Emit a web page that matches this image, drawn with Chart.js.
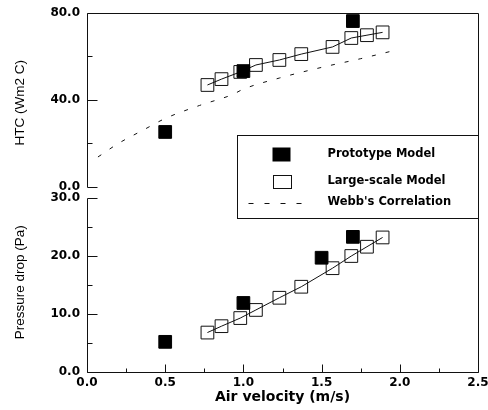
<!DOCTYPE html>
<html>
<head>
<meta charset="utf-8">
<script src="https://cdn.jsdelivr.net/npm/chart.js@4.4.0/dist/chart.umd.min.js"></script>
<style>
body { margin: 0; background: #fff; }
#chart-wrap { width: 488px; height: 410px; }
</style>
</head>
<body>
<div id="chart-wrap"><canvas id="chart-area" width="488" height="410"></canvas></div>
<script>
// air velocity (m/s) vs HTC / pressure drop
var protoVelTop = [0.5, 1.0, 1.7];
var protoHtc = [25.3, 53.3, 76.3];
var protoVelBot = [0.5, 1.0, 1.5, 1.7];
var protoDp = [5.2, 11.9, 19.7, 23.3];

var largeVel = [0.77, 0.86, 0.98, 1.08, 1.23, 1.37, 1.57, 1.69, 1.79, 1.89];
var largeHtc = [46.9, 49.6, 52.9, 56.1, 58.4, 61.1, 64.4, 68.5, 69.8, 71.1];
var largeDp = [6.8, 7.9, 9.3, 10.7, 12.8, 14.7, 17.9, 20.0, 21.6, 23.2];

var webbVel = [0.07, 0.2, 0.36, 0.5, 0.72, 0.93, 1.0, 1.23, 1.5, 1.75, 1.95];
var webbHtc = [13.8, 20.0, 26.2, 31.5, 37.5, 42.5, 45.0, 50.1, 55.0, 59.0, 62.5];

var xTicks = [0, 0.25, 0.5, 0.75, 1.0, 1.25, 1.5, 1.75, 2.0, 2.25, 2.5];
var htcTicks = [0, 20, 40, 60, 80];
var dpTicks = [0, 5, 10, 15, 20, 25, 30];
var legendLabels = ['Prototype Model', 'Large-scale Model', "Webb's Correlation"];

var ink = '#111';
var boldFont = {family: 'DejaVu Sans', weight: 'bold', size: 12};
var titleFont = {family: 'Liberation Sans', weight: 'normal', size: 13.5};

function pts(xs, ys) {
	return xs.map(function(v, i) { return {x: v, y: ys[i]}; });
}

function labelEvery(step) {
	return function(v) {
		var r = v / step;
		return Math.abs(r - Math.round(r)) < 1e-6 ? v.toFixed(1) : '';
	};
}

function yScale(list, lo, hi, step, title) {
	return {
		type: 'linear',
		position: 'left',
		stack: 'panels',
		stackWeight: 1,
		min: lo,
		max: hi,
		afterBuildTicks: function(s) {
			s.ticks = list.map(function(v) { return {value: v}; });
		},
		afterFit: function(s) {
			s.width = 87;
			s.paddingTop = 0;
			s.paddingBottom = 0;
		},
		grid: {display: false, drawTicks: false},
		border: {display: false},
		ticks: {autoSkip: false, padding: 7, color: '#000', font: boldFont, callback: labelEvery(step)},
		title: {display: true, text: title, color: '#000', font: titleFont, padding: {top: 12, bottom: 0}}
	};
}

// frames, inward ticks and the legend box
var panelFrames = {
	id: 'panelFrames',
	afterDatasetsDraw: function(chart) {
		var ctx = chart.ctx;
		var sx = chart.scales.x, st = chart.scales.yTop, sb = chart.scales.yBot;
		var px = function(v) { return Math.round(v) + 0.5; };
		var left = px(sx.getPixelForValue(0)), right = px(sx.getPixelForValue(2.5));
		var top = px(st.getPixelForValue(80)), topZero = px(st.getPixelForValue(0));
		var botTop = px(sb.getPixelForValue(30)), bottom = px(sb.getPixelForValue(0));

		ctx.save();
		ctx.strokeStyle = ink;
		ctx.lineWidth = 1;
		ctx.beginPath();
		ctx.moveTo(left, topZero);
		ctx.lineTo(left, top);
		ctx.lineTo(right, top);
		ctx.lineTo(right, bottom);
		ctx.lineTo(left, bottom);
		ctx.lineTo(left, botTop);

		htcTicks.forEach(function(v) {
			var y = px(st.getPixelForValue(v));
			ctx.moveTo(left, y);
			ctx.lineTo(left + (v % 40 === 0 ? 10 : 5), y);
		});
		dpTicks.forEach(function(v) {
			var y = px(sb.getPixelForValue(v));
			ctx.moveTo(left, y);
			ctx.lineTo(left + (v % 10 === 0 ? 10 : 5), y);
		});
		xTicks.forEach(function(v, i) {
			var x = px(sx.getPixelForValue(v));
			ctx.moveTo(x, bottom);
			ctx.lineTo(x, bottom - (i % 2 === 0 ? 8 : 4));
		});
		ctx.stroke();

		// legend
		var bx0 = px(sx.getPixelForValue(0.96));
		var by0 = px(st.getPixelForValue(24));
		var by1 = px(sb.getPixelForValue(26.5));
		ctx.fillStyle = '#fff';
		ctx.fillRect(bx0, by0, right - bx0, by1 - by0);
		ctx.strokeRect(bx0, by0, right - bx0, by1 - by0);

		var mx = bx0 + 44, tx = bx0 + 90;
		var rows = [by0 + 19, by0 + 46, by0 + 67];
		ctx.fillStyle = '#000';
		ctx.fillRect(mx - 9, rows[0] - 7, 18, 14);
		ctx.strokeRect(Math.round(mx - 9) + 0.5, Math.round(rows[1] - 7) + 0.5, 18, 13);
		ctx.setLineDash([5, 11]);
		ctx.beginPath();
		ctx.moveTo(mx - 33, px(rows[2]));
		ctx.lineTo(mx + 22, px(rows[2]));
		ctx.stroke();
		ctx.setLineDash([]);

		ctx.font = 'bold 11.5px "DejaVu Sans"';
		ctx.textBaseline = 'middle';
		ctx.textAlign = 'left';
		legendLabels.forEach(function(t, i) {
			ctx.fillText(t, tx, rows[i]);
		});
		ctx.restore();
	}
};

var config = {
	type: 'scatter',
	data: {
		datasets: [
			{
				label: legendLabels[0], yAxisID: 'yTop', data: pts(protoVelTop, protoHtc),
				pointStyle: 'rect', pointRadius: 9, backgroundColor: '#000', borderColor: '#000', borderWidth: 1
			},
			{
				label: legendLabels[0], yAxisID: 'yBot', data: pts(protoVelBot, protoDp),
				pointStyle: 'rect', pointRadius: 9, backgroundColor: '#000', borderColor: '#000', borderWidth: 1
			},
			{
				label: legendLabels[1], yAxisID: 'yTop', data: pts(largeVel, largeHtc), showLine: true,
				pointStyle: 'rect', pointRadius: 9, backgroundColor: 'rgba(0,0,0,0)', borderColor: ink, borderWidth: 1
			},
			{
				label: legendLabels[1], yAxisID: 'yBot', data: pts(largeVel, largeDp), showLine: true,
				pointStyle: 'rect', pointRadius: 9, backgroundColor: 'rgba(0,0,0,0)', borderColor: ink, borderWidth: 1
			},
			{
				label: legendLabels[2], yAxisID: 'yTop', data: pts(webbVel, webbHtc), showLine: true,
				pointRadius: 0, borderColor: ink, borderWidth: 1, borderDash: [4, 10], cubicInterpolationMode: 'monotone'
			}
		]
	},
	options: {
		responsive: false,
		animation: false,
		events: [],
		layout: {padding: {top: 13, right: 10, bottom: 0, left: 0}},
		plugins: {legend: {display: false}, tooltip: {enabled: false}},
		scales: {
			x: {
				type: 'linear',
				position: 'bottom',
				min: 0,
				max: 2.5,
				afterBuildTicks: function(s) {
					s.ticks = xTicks.map(function(v) { return {value: v}; });
				},
				afterFit: function(s) {
					s.height = 38;
					s.paddingLeft = 0;
					s.paddingRight = 0;
				},
				grid: {display: false, drawTicks: false},
				border: {display: false},
				ticks: {autoSkip: false, maxRotation: 0, padding: 4, color: '#000', font: boldFont, callback: labelEvery(0.5)},
				title: {
					display: true, text: 'Air velocity (m/s)', color: '#000',
					font: {family: 'DejaVu Sans', weight: 'bold', size: 14}, padding: {top: 0, bottom: 4}
				}
			},
			yBot: yScale(dpTicks, 0, 30.95, 10, 'Pressure drop (Pa)'),
			yTop: yScale(htcTicks, -2.53, 80, 40, 'HTC (Wm2 C)')
		}
	},
	plugins: [panelFrames]
};

var ctx01 = document.getElementById('chart-area').getContext('2d');
var chart01 = new Chart(ctx01, config);
</script>
</body>
</html>
